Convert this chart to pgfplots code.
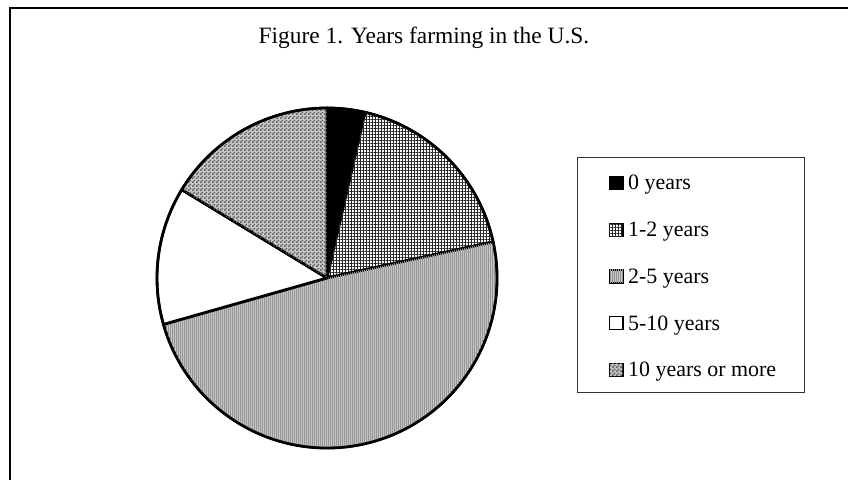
\documentclass[border=0pt]{standalone}
\usepackage{fontspec}
\setmainfont{Liberation Serif}
\usepackage{pgfplots}
\usepackage{pgfplotstable}
\pgfplotsset{compat=1.18}
\usetikzlibrary{patterns,patterns.meta}

% Share of respondents (percent) by years farming in the U.S.
\pgfplotstableread[col sep=comma,row sep=\\]{
share,label\\
3.6,0 years\\
18.0,1-2 years\\
49.0,2-5 years\\
13.1,5-10 years\\
16.3,10 years or more\\
}\farmyears

% fine checker texture
\pgfdeclarepatternformonly{finecheck}{\pgfpointorigin}{\pgfpoint{3.6bp}{3.6bp}}{\pgfpoint{3.6bp}{3.6bp}}{%
  \pgfpathrectangle{\pgfpointorigin}{\pgfpoint{1.8bp}{1.8bp}}%
  \pgfpathrectangle{\pgfpoint{1.8bp}{1.8bp}}{\pgfpoint{1.8bp}{1.8bp}}%
  \pgfusepath{fill}}

\tikzset{
  slice0/.style={fill=black},
  slice1/.style={fill=white, postaction={pattern={Hatch[angle=0,distance=3bp,line width=1bp]}, pattern color=black!85}},
  slice2/.style={fill=black!22, postaction={pattern={Lines[angle=90,distance=2bp,line width=0.6bp]}, pattern color=black!42}},
  slice3/.style={fill=white},
  slice4/.style={fill=black!22, postaction={pattern=finecheck, pattern color=black!62}},
}
\newcommand\sa[1]{\csname slicestart#1\endcsname}
\newcommand\se[1]{\csname sliceend#1\endcsname}

\begin{document}
\begin{tikzpicture}
\path[use as bounding box] (0,0) rectangle (848bp,480bp);

% cumulative angles, clockwise from 12 o'clock
\pgfplotstablegetrowsof{\farmyears}
\pgfmathtruncatemacro\nslices{\pgfplotsretval-1}
\gdef\cumshare{0}
\foreach \i in {0,...,\nslices}{
  \pgfplotstablegetelem{\i}{share}\of\farmyears
  \pgfmathsetmacro\startang{90-3.6*\cumshare}
  \pgfmathsetmacro\newcum{\cumshare+\pgfplotsretval}
  \pgfmathsetmacro\endang{90-3.6*\newcum}
  \expandafter\xdef\csname slicestart\i\endcsname{\startang}
  \expandafter\xdef\csname sliceend\i\endcsname{\endang}
  \xdef\cumshare{\newcum}
}

% outer frame
\draw[line width=2bp] (10bp,0) -- (10bp,472bp) -- (848bp,472bp);

% title
\node[font=\fontsize{23.5}{28}\selectfont, anchor=base] at (424bp,436bp) {Figure 1. Years farming in the U.S.};

\begin{axis}[
  hide axis, scale only axis,
  width=340bp, height=340bp,
  xmin=-1, xmax=1, ymin=-1, ymax=1,
  at={(327bp,202bp)}, anchor=center,
  clip=false,
]
\pgfplotsinvokeforeach{0,...,4}{
  \filldraw[slice#1, draw=black, line width=2.8bp, line join=round]
    (0,0) -- ({cos(\sa{#1})},{sin(\sa{#1})})
    arc[start angle=\sa{#1}, end angle=\se{#1}, radius=1] -- cycle;
}
\draw[line width=2.4bp] (0,0) circle[radius=1];
\end{axis}

% legend
\draw[line width=1bp, draw=black!80] (577bp,87bp) rectangle (804bp,322bp);
\foreach \k/\yc in {0/297,1/250.25,2/203.5,3/156.75,4/110}{
  \pgfplotstablegetelem{\k}{label}\of\farmyears
  \filldraw[slice\k, draw=black, line width=1.2bp] (609.5bp,\yc bp-6.5bp) rectangle (623bp,\yc bp+6.5bp);
  \node[anchor=base west, inner sep=0pt, font=\fontsize{22}{26}\selectfont] at (628bp,\yc bp-7bp) {\pgfplotsretval};
}
\end{tikzpicture}
\end{document}
